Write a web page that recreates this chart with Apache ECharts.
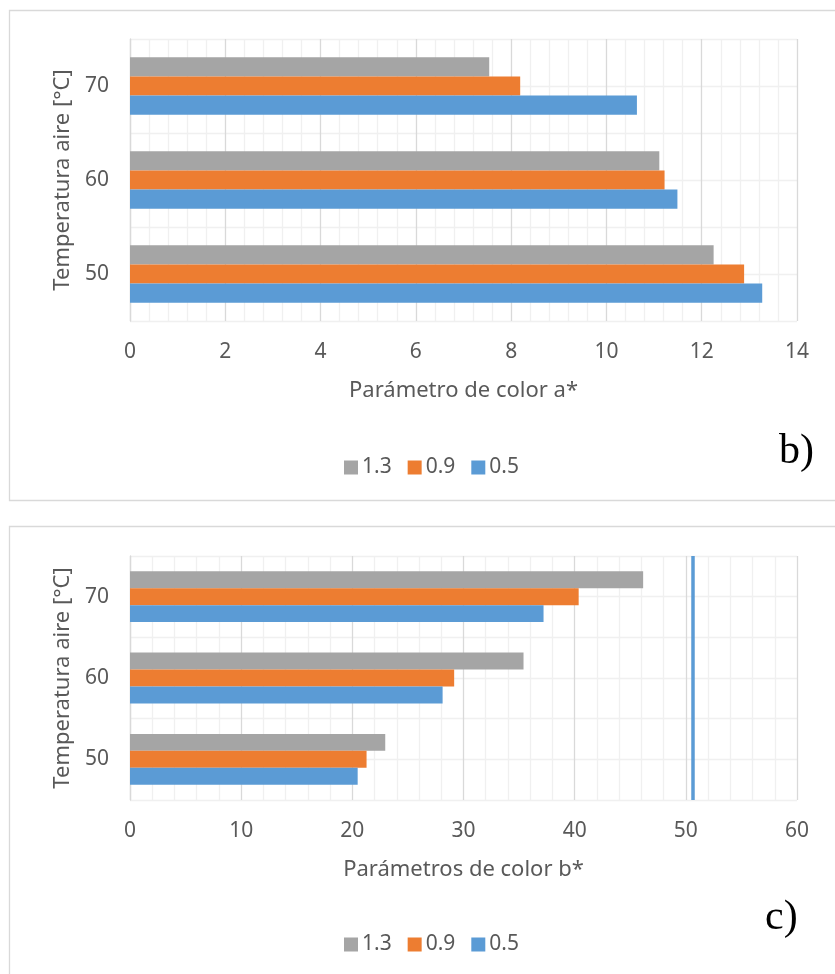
<!DOCTYPE html>
<html>
<head>
<meta charset="utf-8">
<script src="https://cdn.jsdelivr.net/npm/echarts@6/dist/echarts.min.js"></script>
<style>
  html, body { margin: 0; padding: 0; background: #ffffff; }
  #chart { width: 835px; height: 974px; }
</style>
</head>
<body>
<div id="chart"></div>
<script>
// Air temperature categories (bottom to top)
const temperatures = ['50', '60', '70'];
// Series names (legend order)
const seriesNames = ['1.3', '0.9', '0.5'];

// Colour parameter a* per series, for 50 / 60 / 70 °C
const aStar_13 = [12.25, 11.11, 7.54];
const aStar_09 = [12.89, 11.22, 8.19];
const aStar_05 = [13.27, 11.49, 10.64];

// Colour parameter b* per series, for 50 / 60 / 70 °C
const bStar_13 = [22.96, 35.40, 46.16];
const bStar_09 = [21.28, 29.16, 40.36];
const bStar_05 = [20.48, 28.12, 37.20];

// Vertical reference line on the b* chart
const bStarRefLine = 50.6;

// Axis ranges
const aAxis = { min: 0, max: 14, interval: 2 };
const bAxis = { min: 0, max: 60, interval: 10 };

const colors = { '1.3': '#a5a5a5', '0.9': '#ed7d31', '0.5': '#5b9bd5' };
const FONT = 'Noto Sans';
const TXT = '#595959';

function valueAxis(grid, range, name, nameGap) {
  return {
    type: 'value', gridIndex: grid,
    min: range.min, max: range.max, interval: range.interval,
    name: name, nameLocation: 'middle', nameGap: nameGap,
    nameTextStyle: { color: TXT, fontSize: 22, fontFamily: FONT },
    axisLine: { show: false }, axisTick: { show: false },
    axisLabel: { color: TXT, fontSize: 21, fontFamily: FONT, margin: 21 },
    splitLine: { show: true, lineStyle: { color: '#d9d9d9', width: 1.3 } },
    minorTick: { show: false, splitNumber: 5 },
    minorSplitLine: { show: true, lineStyle: { color: '#f0f0f0', width: 1.3 } }
  };
}

function catAxis(grid) {
  return {
    type: 'category', gridIndex: grid, data: temperatures,
    name: 'Temperatura aire [°C]', nameLocation: 'middle', nameGap: 56,
    nameRotate: 90,
    nameTextStyle: { color: TXT, fontSize: 22, fontFamily: FONT },
    axisLine: { show: true, lineStyle: { color: '#d9d9d9', width: 1.3 } },
    axisTick: { show: false },
    axisLabel: { color: TXT, fontSize: 21, fontFamily: FONT, margin: 21 },
    splitLine: { show: false }
  };
}

// Light horizontal guide lines at category edges and centres
function guideAxis(grid) {
  return {
    type: 'value', gridIndex: grid, min: 0, max: 6, interval: 1,
    axisLine: { show: false }, axisTick: { show: false }, axisLabel: { show: false },
    splitLine: { show: true, lineStyle: { color: '#f0f0f0', width: 1.3 } }
  };
}

function barSeries(name, data, xi, yi, gap, extra) {
  return Object.assign({
    name: name, type: 'bar', xAxisIndex: xi, yAxisIndex: yi,
    data: data, barGap: '0%', barCategoryGap: gap,
    itemStyle: { color: colors[name] },
    emphasis: { disabled: true }
  }, extra || {});
}

function legendAt(top) {
  return {
    top: top, left: 339, itemGap: 16, itemWidth: 14, itemHeight: 14,
    icon: 'rect', data: seriesNames, selectedMode: false,
    textStyle: { color: TXT, fontSize: 21, fontFamily: FONT, padding: [0, 0, 0, -1] }
  };
}

const chart = echarts.init(document.getElementById('chart'), null, { renderer: 'canvas' });

chart.setOption({
  animation: false,
  backgroundColor: '#ffffff',
  grid: [
    { left: 130, top: 39, width: 667, height: 282 },
    { left: 130, top: 556, width: 667, height: 244 }
  ],
  xAxis: [
    valueAxis(0, aAxis, 'Parámetro de color a*', 59),
    valueAxis(1, bAxis, 'Parámetros de color b*', 59)
  ],
  yAxis: [
    catAxis(0), catAxis(1),
    guideAxis(0), guideAxis(1)
  ],
  legend: [legendAt(452), legendAt(929)],
  series: [
    barSeries('1.3', aStar_13, 0, 0, '39%'),
    barSeries('0.9', aStar_09, 0, 0, '39%'),
    barSeries('0.5', aStar_05, 0, 0, '39%'),
    barSeries('1.3', bStar_13, 1, 1, '37.4%'),
    barSeries('0.9', bStar_09, 1, 1, '37.4%'),
    barSeries('0.5', bStar_05, 1, 1, '37.4%', {
      markLine: {
        silent: true, symbol: 'none', label: { show: false },
        lineStyle: { color: '#5b9bd5', width: 3.5, type: 'solid' },
        data: [{ xAxis: bStarRefLine }]
      }
    })
  ],
  graphic: [
    { type: 'rect', silent: true, z: -1,
      shape: { x: 9.5, y: 10.5, width: 900, height: 490 },
      style: { fill: 'none', stroke: '#d9d9d9', lineWidth: 1.3 } },
    { type: 'rect', silent: true, z: -1,
      shape: { x: 9.5, y: 526.5, width: 900, height: 500 },
      style: { fill: 'none', stroke: '#d9d9d9', lineWidth: 1.3 } },
    { type: 'text', silent: true, x: 779, y: 452,
      style: { text: 'b)', font: '42px "Liberation Serif"', fill: '#000000',
               verticalAlign: 'middle', align: 'left',
               shadowColor: 'rgba(0,0,0,0.35)', shadowBlur: 3, shadowOffsetX: 2, shadowOffsetY: 2 } },
    { type: 'text', silent: true, x: 765, y: 918,
      style: { text: 'c)', font: '42px "Liberation Serif"', fill: '#000000',
               verticalAlign: 'middle', align: 'left',
               shadowColor: 'rgba(0,0,0,0.35)', shadowBlur: 3, shadowOffsetX: 2, shadowOffsetY: 2 } }
  ]
});
</script>
</body>
</html>
